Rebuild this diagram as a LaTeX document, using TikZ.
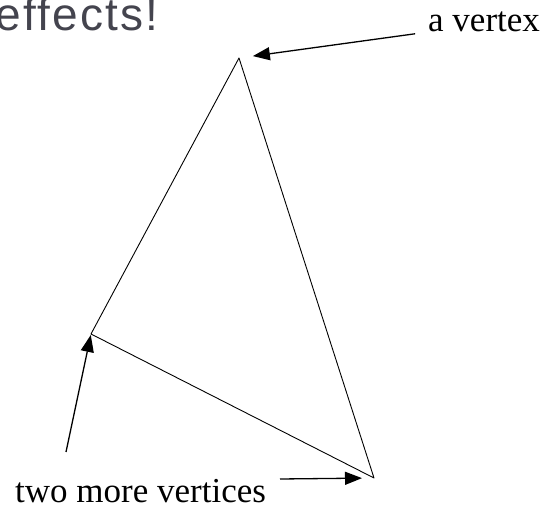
\documentclass[tikz,border=0pt]{standalone}
\usepackage{fontspec}
\setmainfont{Liberation Serif}
\newfontfamily\slidefont{Liberation Sans}
\usetikzlibrary{arrows.meta}
\definecolor{slidegray}{RGB}{68,68,78}

\begin{document}
\begin{tikzpicture}[x=1pt, y=1pt]
% Triangle drawn at pixel scale
\providecommand{\triLineWidth}{0.9pt}
\providecommand{\ptrLineWidth}{1.3pt}
\providecommand{\labelFont}{\fontsize{35}{40}\selectfont}
\useasboundingbox (0,0) rectangle (544,509);
% Slide title, cut off at the left edge
\node[anchor=base west, inner sep=0pt, text=slidegray,
  font=\slidefont\fontsize{46}{50}\selectfont\addfontfeatures{LetterSpace=5}] (title) at (-5,478) {effects!};
\begin{scope}[line cap=round, line join=round]
  % Vertices
  \coordinate (vtop) at (239,451);
  \coordinate (vleft) at (91,175);
  \coordinate (vright) at (374,31);
  % Outline
  \draw[line width=\triLineWidth] (vtop) -- (vleft) -- (vright) -- cycle;
\end{scope}
% Labels
\node[anchor=base west, inner sep=0pt, font=\labelFont] (lbltop) at (428,477) {a vertex};
\node[anchor=base west, inner sep=0pt, font=\labelFont] (lblpair) at (15,6) {two more vertices};
% Pointers
\coordinate (lefttail) at (66,57);
\coordinate (righttail) at (280,30);
\begin{scope}[line width=\ptrLineWidth, -{Triangle[length=17pt, width=13pt]}]
  \draw[shorten <=13pt, shorten >=14pt] (lbltop.base west) -- (vtop);
  \draw[shorten >=1pt] (lefttail) -- (vleft);
  \draw[shorten >=12pt] (righttail) -- (vright);
\end{scope}
\end{tikzpicture}
\end{document}
